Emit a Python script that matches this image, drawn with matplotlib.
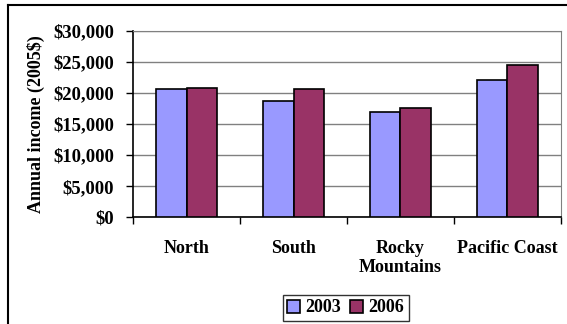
import matplotlib
matplotlib.use("Agg")
import matplotlib.pyplot as plt
import numpy as np
from matplotlib.lines import Line2D

categories = ["North", "South", "Rocky\nMountains", "Pacific Coast"]
series_names = ["2003", "2006"]
values_2003 = [20600, 18700, 16900, 22100]
values_2006 = [20800, 20600, 17550, 24500]
yticks = [0, 5000, 10000, 15000, 20000, 25000, 30000]
ytick_labels = ["$0", "$5,000", "$10,000", "$15,000", "$20,000", "$25,000", "$30,000"]

plt.rcParams['font.family'] = ['Liberation Serif', 'DejaVu Serif']
plt.rcParams['font.weight'] = 'bold'

W, H = 567, 324
fig = plt.figure(figsize=(W / 100, H / 100), dpi=100)
ax = fig.add_axes([133.3 / W, 1 - 217.3 / H, (560.7 - 133.3) / W, (217.3 - 31) / H])

x = np.arange(len(categories))
bw = 0.287
ax.bar(x - bw / 2, values_2003, bw, color="#9999FF", edgecolor="black", linewidth=1.2, label=series_names[0], zorder=3)
ax.bar(x + bw / 2, values_2006, bw, color="#993366", edgecolor="black", linewidth=1.2, label=series_names[1], zorder=3)

ax.set_xlim(-0.5, len(categories) - 0.5)
ax.set_ylim(0, 30000)
ax.set_yticks(yticks)
ax.set_yticklabels(ytick_labels, fontsize=13.5, fontweight='bold')
ax.yaxis.grid(True, color="#808080", linewidth=1.0, zorder=0)

ax.set_xticks(np.arange(-0.5, len(categories) + 0.5, 1.0))
ax.set_xticklabels([])
ax.set_xticks(x, minor=True)
ax.set_xticklabels(categories, minor=True, fontsize=13, fontweight='bold', va='top')
ax.tick_params(axis='x', which='minor', length=0, pad=16)
ax.tick_params(axis='x', which='major', length=5, width=1, direction='out', color='black')
ax.tick_params(axis='y', length=5, width=1, direction='out', color='black', pad=9)

ax.spines['left'].set_color('black')
ax.spines['bottom'].set_color('black')
ax.spines['left'].set_linewidth(1.2)
ax.spines['bottom'].set_linewidth(1.2)
ax.spines['top'].set_color('#808080')
ax.spines['right'].set_color('#808080')

ax.set_ylabel("Annual income (2005$)", fontsize=13, fontweight='bold', va='center')
ax.yaxis.set_label_coords(-0.228, 0.5)

leg = fig.legend(loc='center', bbox_to_anchor=(345.8 / W, 1 - 308 / H), ncol=2,
                 prop={'size': 13, 'weight': 'bold'}, frameon=True, fancybox=False,
                 edgecolor='black', handlelength=0.7, handleheight=0.7,
                 handletextpad=0.3, columnspacing=0.5, borderpad=0.25, borderaxespad=0)
leg.get_frame().set_linewidth(1.0)

fig.add_artist(Line2D([8 / W, 8 / W], [0, 1 - 5 / H], transform=fig.transFigure, color='black', linewidth=1.5))
fig.add_artist(Line2D([8 / W, 1], [1 - 5 / H, 1 - 5 / H], transform=fig.transFigure, color='black', linewidth=1.5))

fig.savefig("out.png", dpi=100)
